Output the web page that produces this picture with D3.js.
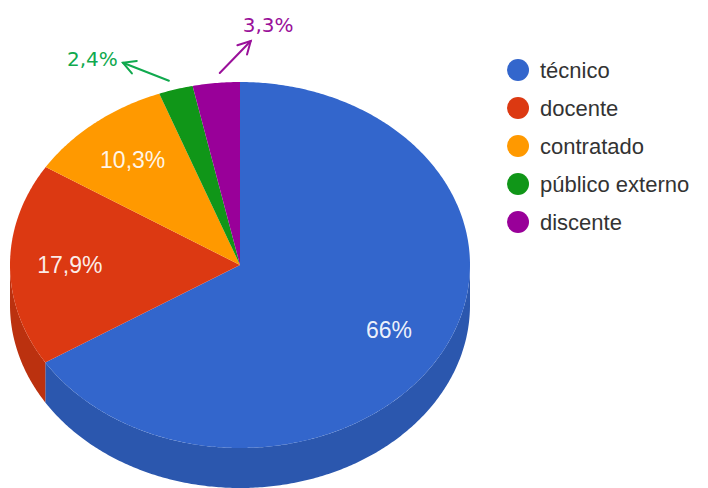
<!DOCTYPE html>
<html>
<head>
<meta charset="utf-8">
<script src="https://cdn.jsdelivr.net/npm/d3@7"></script>
<style>
  body { margin: 0; background: #fff; }
</style>
</head>
<body>
<div id="chart"></div>
<script>
// Data
const categories = ["técnico", "docente", "contratado", "público externo", "discente"];
const values = [66, 17.9, 10.3, 2.4, 3.3];
const sliceLabels = ["66%", "17,9%", "10,3%", "2,4%", "3,3%"];
const sliceColors = ["#3366cc", "#dc3912", "#ff9900", "#109618", "#990099"];

// Layout
const W = 708, H = 488;
const cx = 240, cy = 265, rx = 230, ry = 183, depth = 40;
const labelFrac = 0.74;

const svg = d3.select("#chart").append("svg")
    .attr("width", W)
    .attr("height", H);

// pie angles, clockwise from 12 o'clock, original order
const pie = d3.pie().sort(null).value(d => d)(values);

// point on ellipse rim
const rim = (a, dy = 0, f = 1) => [cx + f * rx * Math.sin(a), cy - f * ry * Math.cos(a) + dy];
const line = d3.line();

function arcPoints(a0, a1, dy) {
  const n = Math.max(2, Math.ceil((a1 - a0) / 0.01));
  return d3.range(n + 1).map(i => rim(a0 + (a1 - a0) * i / n, dy));
}

// side walls (only the front half is visible)
pie.forEach((p, i) => {
  const s = Math.max(p.startAngle, Math.PI / 2);
  const e = Math.min(p.endAngle, 3 * Math.PI / 2);
  if (s >= e) return;
  const pts = arcPoints(s, e, 0).concat(arcPoints(s, e, depth).reverse());
  svg.append("path")
      .attr("d", line(pts) + "Z")
      .attr("fill", d3.color(sliceColors[i]).darker(0.45));
});

// top faces
pie.forEach((p, i) => {
  const pts = [[cx, cy]].concat(arcPoints(p.startAngle, p.endAngle, 0));
  svg.append("path")
      .attr("d", line(pts) + "Z")
      .attr("fill", sliceColors[i]);
});

// inside labels for the big slices
pie.forEach((p, i) => {
  if (values[i] < 5) return;
  const m = (p.startAngle + p.endAngle) / 2;
  const [x, y] = rim(m, 0, labelFrac);
  svg.append("text")
      .attr("x", x)
      .attr("y", y)
      .attr("text-anchor", "middle")
      .attr("dominant-baseline", "central")
      .style("font-family", "'Liberation Sans', Arial, sans-serif")
      .style("font-size", "23px")
      .style("fill", "#fff")
      .style("fill-opacity", 0.92)
      .text(sliceLabels[i]);
});

// hand-drawn style annotations for the small slices
const notes = {
  3: { color: "#10a94e", start: [-3, 2], tip: [-46, -18], text: [-102, -15] },
  4: { color: "#9a109a", start: [5, 1], tip: [31, -32], text: [23, -41] }
};
pie.forEach((p, i) => {
  const n = notes[i];
  if (!n) return;
  const m = (p.startAngle + p.endAngle) / 2;
  const r = rim(m, 0, 1.06);
  const x0 = r[0] + n.start[0], y0 = r[1] + n.start[1];
  const x1 = x0 + n.tip[0], y1 = y0 + n.tip[1];
  const ang = Math.atan2(y1 - y0, x1 - x0);
  const head = 14, spread = 0.5;
  const g = svg.append("g")
      .attr("stroke", n.color)
      .attr("stroke-width", 2)
      .attr("fill", "none")
      .attr("stroke-linecap", "round");
  g.append("path").attr("d", line([[x0, y0], [x1, y1]]));
  g.append("path").attr("d", line([
    [x1 - head * Math.cos(ang - spread), y1 - head * Math.sin(ang - spread)],
    [x1, y1],
    [x1 - head * Math.cos(ang + spread), y1 - head * Math.sin(ang + spread)]
  ]));
  svg.append("text")
      .attr("x", x0 + n.text[0])
      .attr("y", y0 + n.text[1])
      .style("font-family", "'DejaVu Sans', sans-serif")
      .style("font-size", "20px")
      .style("fill", n.color)
      .text(sliceLabels[i]);
});

// legend
const legend = svg.append("g").attr("transform", "translate(518,70)");
const ly = d3.scalePoint().domain(categories).range([0, 152]);
const item = legend.selectAll("g").data(categories).enter().append("g")
    .attr("transform", d => `translate(0,${ly(d)})`);
item.append("circle")
    .attr("r", 11)
    .attr("fill", (d, i) => sliceColors[i]);
item.append("text")
    .attr("x", 22)
    .attr("dy", "0.35em")
    .style("font-family", "'Liberation Sans', Arial, sans-serif")
    .style("font-size", "22px")
    .style("fill", "#333")
    .text(d => d);
</script>
</body>
</html>
